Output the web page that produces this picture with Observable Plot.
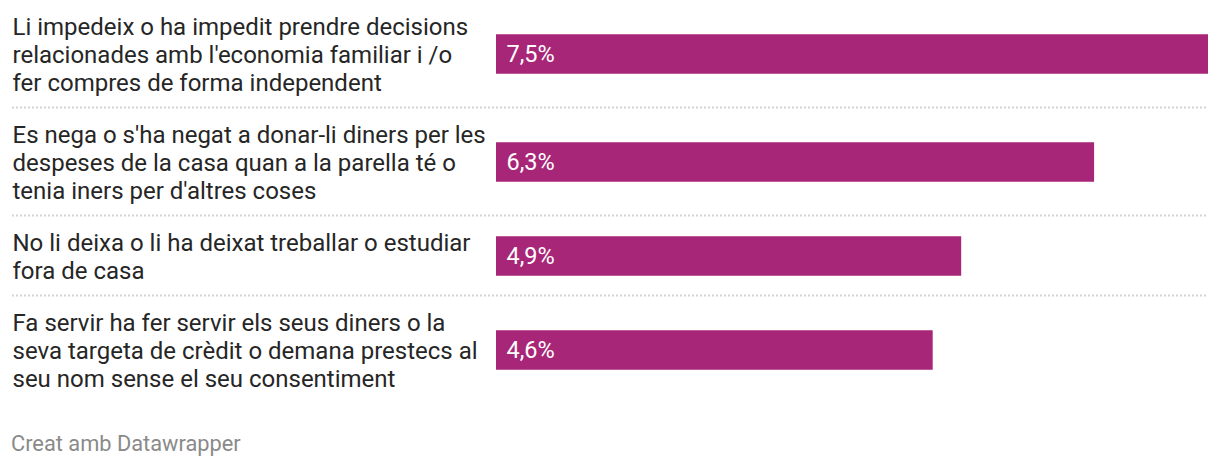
<!DOCTYPE html>
<html>
<head>
<meta charset="utf-8">
<script src="https://cdn.jsdelivr.net/npm/d3@7"></script>
<script src="https://cdn.jsdelivr.net/npm/@observablehq/plot@0.6"></script>
<style>
  html, body { margin: 0; padding: 0; background: #fff; }
  body { width: 1220px; font-family: Roboto, "Noto Sans", sans-serif; }
  #footer { margin: 22px 0 0 11px; font-size: 21.8px; line-height: 24px; color: #8a8a8a; }
</style>
</head>
<body>
<div id="chart"></div>
<div id="footer">Creat amb Datawrapper</div>
<script>
const categories = [
  "Li impedeix o ha impedit prendre decisions\nrelacionades amb l'economia familiar i /o\nfer compres de forma independent",
  "Es nega o s'ha negat a donar-li diners per les\ndespeses de la casa quan a la parella té o\ntenia iners per d'altres coses",
  "No li deixa o li ha deixat treballar o estudiar\nfora de casa",
  "Fa servir ha fer servir els seus diners o la\nseva targeta de crèdit o demana prestecs al\nseu nom sense el seu consentiment"
];
const values = [7.5, 6.3, 4.9, 4.6];
const xDomain = [0, 7.5];

// layout (row heights depend on the number of text lines)
const lineH = 28, padTop = 13, padBottom = 11, barH = 39.5;
let acc = 0;
const rows = categories.map((label, i) => {
  const n = label.split("\n").length;
  const top = acc;
  const mid = top + padTop + n * lineH / 2;
  const bottom = mid + n * lineH / 2 + padBottom;
  acc = bottom;
  return {
    label, value: values[i],
    text: values[i].toFixed(1).replace(".", ",") + "%",
    mid, b1: mid - barH / 2, b2: mid + barH / 2, bottom
  };
});
const total = acc;
const marginLeft = 496;

const chart = Plot.plot({
  width: 1220,
  height: 410,
  marginTop: 0,
  marginBottom: 0,
  marginLeft,
  marginRight: 12,
  style: { fontFamily: "Roboto, sans-serif", background: "#fff" },
  x: { domain: xDomain, axis: null },
  y: { type: "linear", domain: [0, total], range: [-1, total - 1], axis: null },
  marks: [
    Plot.ruleY(rows.slice(0, -1), {
      y: "bottom", stroke: "#d4d4d4", strokeWidth: 2, strokeDasharray: "2,2",
      insetLeft: -(marginLeft - 12)
    }),
    Plot.rectX(rows, { x: "value", y1: "b1", y2: "b2", fill: "#a82677" }),
    Plot.text(rows, {
      y: "mid", text: "text", x: () => 0, dx: 10, textAnchor: "start",
      fill: "#fff", fontSize: 23.5
    }),
    Plot.text(rows, {
      y: "mid", text: "label", frameAnchor: "left", dx: -(marginLeft - 12),
      textAnchor: "start", lineAnchor: "middle", lineHeight: lineH / 24,
      fill: "#262626", fontSize: 24
    })
  ]
});
document.getElementById("chart").appendChild(chart);
</script>
</body>
</html>
